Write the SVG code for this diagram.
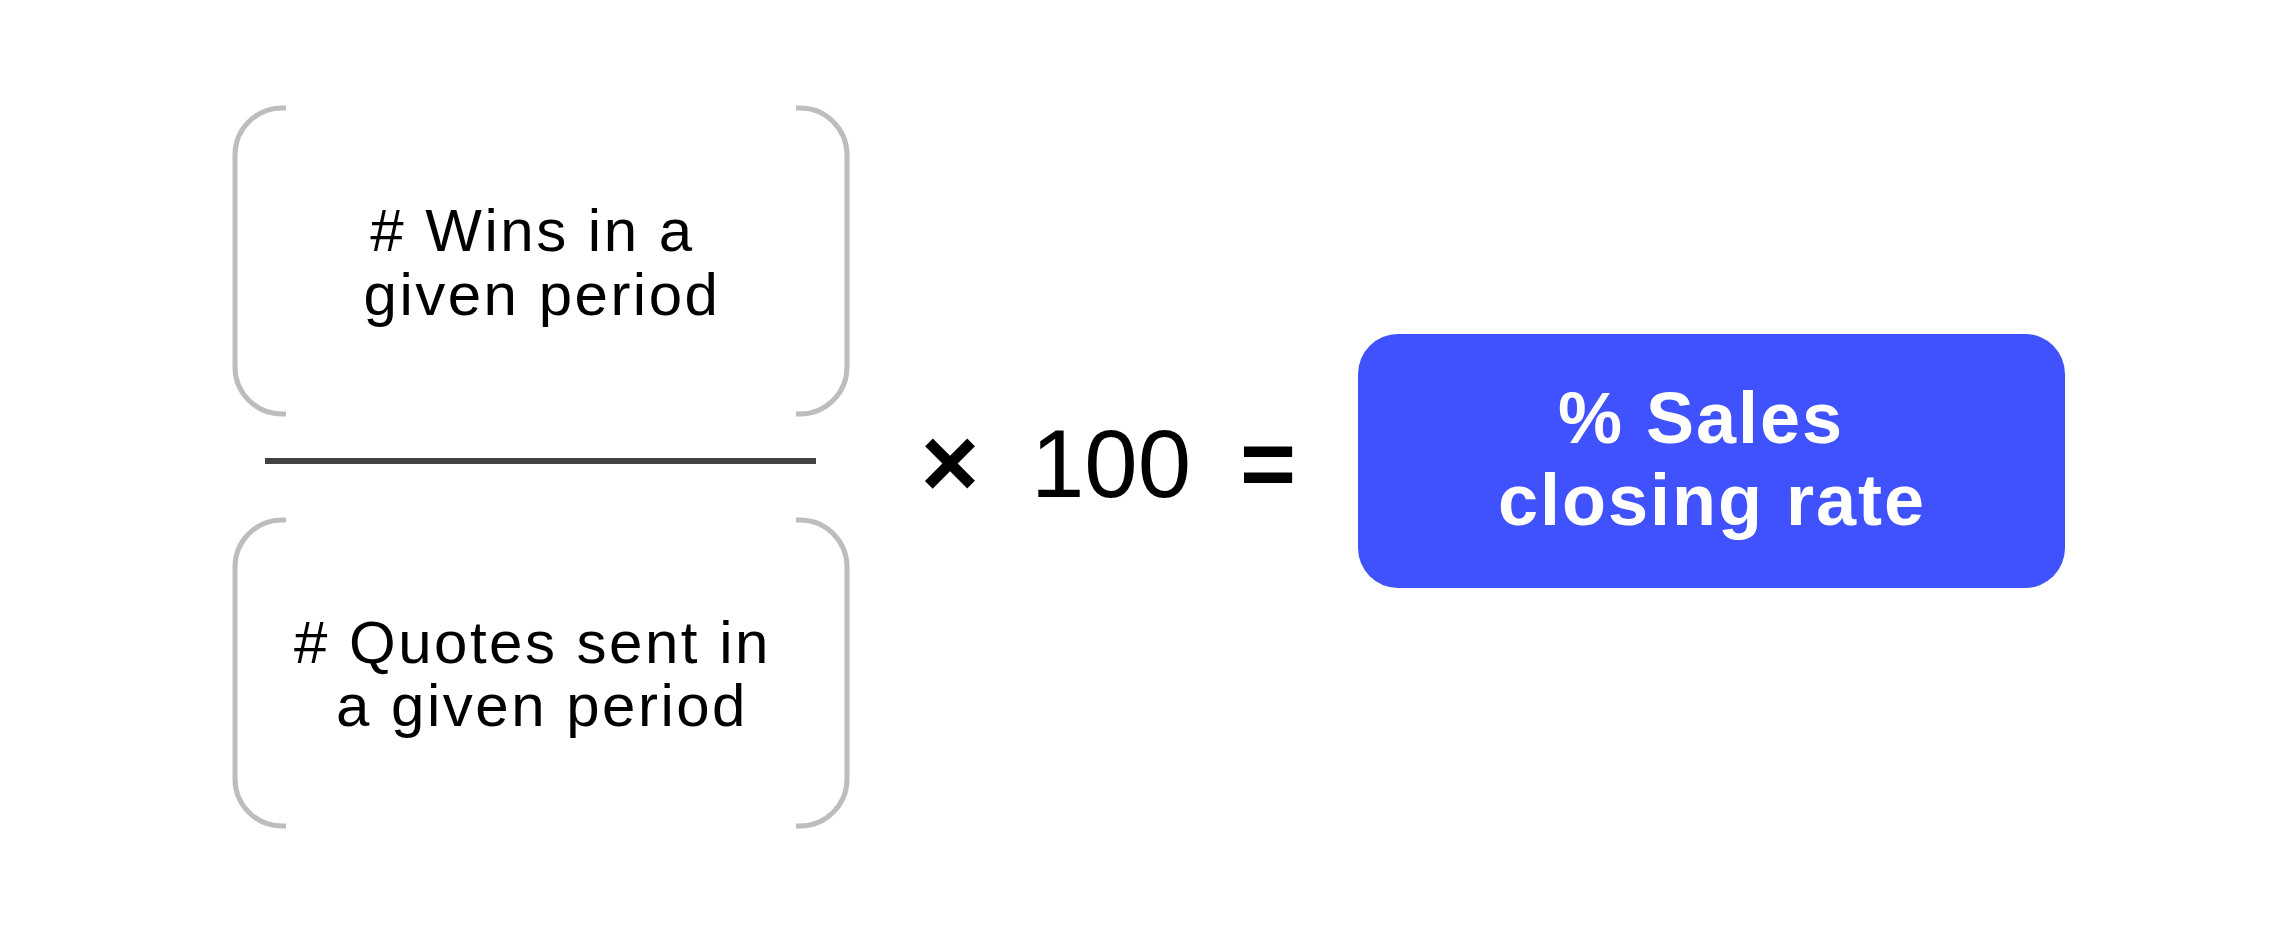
<svg xmlns="http://www.w3.org/2000/svg" width="2294" height="949" viewBox="0 0 2294 949">
  <style>
    .bracket { fill: none; stroke: #bdbdbd; stroke-width: 5; }
    .label { font-family: "Liberation Sans", Arial, sans-serif; font-size: 60px; letter-spacing: 2.5px; fill: #000000; text-anchor: middle; }
    .op { font-family: "Liberation Sans", Arial, sans-serif; font-weight: bold; fill: #000000; text-anchor: middle; }
    .num { font-family: "Liberation Sans", Arial, sans-serif; font-size: 96px; fill: #000000; text-anchor: middle; }
    .result { font-family: "Liberation Sans", Arial, sans-serif; font-weight: bold; font-size: 72px; letter-spacing: 2px; fill: #ffffff; text-anchor: middle; }
  </style>
  <rect width="2294" height="949" fill="#ffffff"/>
  <g id="numerator">
    <path class="bracket" d="M 286 108 H 282 A 47 47 0 0 0 235 155 V 367 A 47 47 0 0 0 282 414 H 286"/>
    <path class="bracket" d="M 796 108 H 800 A 47 47 0 0 1 847 155 V 367 A 47 47 0 0 1 800 414 H 796"/>
    <text class="label" x="542" y="251">
      <tspan x="542" y="251"># Wins in a</tspan>
      <tspan x="542" y="315">given period</tspan>
    </text>
  </g>
  <g id="fraction-bar">
    <line x1="265" y1="461" x2="816" y2="461" stroke="#424242" stroke-width="6"/>
  </g>
  <g id="denominator">
    <path class="bracket" d="M 286 520 H 282 A 47 47 0 0 0 235 567 V 779 A 47 47 0 0 0 282 826 H 286"/>
    <path class="bracket" d="M 796 520 H 800 A 47 47 0 0 1 847 567 V 779 A 47 47 0 0 1 800 826 H 796"/>
    <text class="label" x="542" y="663">
      <tspan x="542" y="663"># Quotes sent in</tspan>
      <tspan x="542" y="726">a given period</tspan>
    </text>
  </g>
  <g id="multiplier">
    <text class="op" x="950" y="497" font-size="100">×</text>
    <text class="num" x="1111" y="497">100</text>
    <text class="op" x="1268" y="497" font-size="96">=</text>
  </g>
  <g id="result">
    <rect x="1358" y="334" width="707" height="254" rx="40" ry="40" fill="#4052FD"/>
    <text class="result" x="1712" y="443">
      <tspan x="1712" y="443">% Sales</tspan>
      <tspan x="1712" y="525">closing rate</tspan>
    </text>
  </g>
</svg>
